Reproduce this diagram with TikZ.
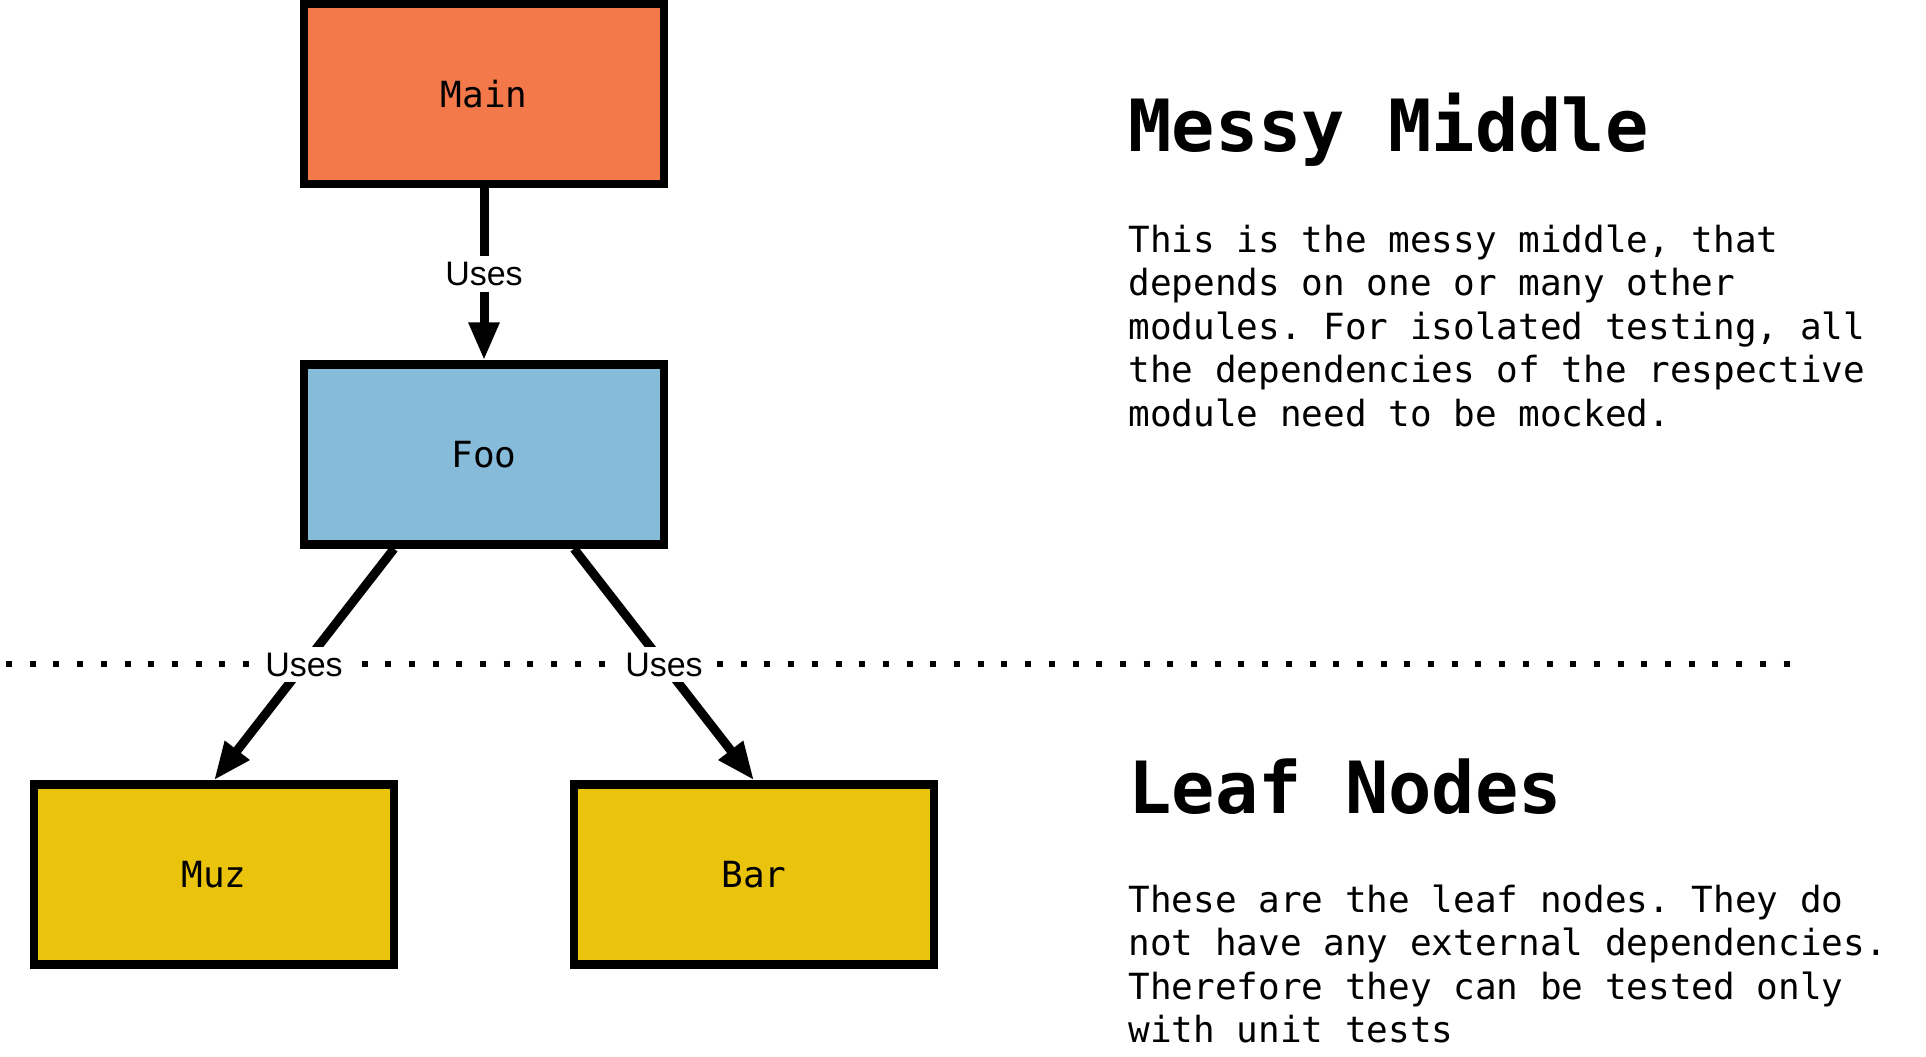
\documentclass[tikz,border=0pt]{standalone}
\usepackage{fontspec}
\setmonofont{DejaVu Sans Mono}
\newfontfamily\usesfont{Liberation Sans}
\usetikzlibrary{arrows.meta}
\definecolor{mainorange}{RGB}{244,121,74}
\definecolor{fooblue}{RGB}{134,187,218}
\definecolor{leafyellow}{RGB}{234,196,12}
\begin{document}
\begin{tikzpicture}[x=0.5pt,y=-0.5pt,
  module/.style={draw=black,line width=4.25pt,minimum width=180pt,minimum height=90pt,
    font=\ttfamily\fontsize{18pt}{20pt}\selectfont},
  uses/.style={line width=4.5pt,-{Triangle[length=19pt,width=14.5pt]}},
  useslabel/.style={fill=white,inner sep=3pt,font=\usesfont\fontsize{17pt}{18pt}\selectfont},
  heading/.style={anchor=base west,inner sep=0pt,font=\ttfamily\bfseries\fontsize{36pt}{40pt}\selectfont},
  blurb/.style={anchor=base west,inner sep=0pt,align=left,font=\ttfamily\fontsize{18pt}{21.8pt}\selectfont}]
\useasboundingbox (0,0) rectangle (1926,1056);
% modules
\node[module,fill=mainorange] (main) at (484,94) {Main};
\node[module,fill=fooblue] (foo) at (484,454.5) {Foo};
\node[module,fill=leafyellow] (muz) at (214,874.5) {Muz};
\node[module,fill=leafyellow] (bar) at (754,874.5) {Bar};
% border between middle and leaves
\coordinate (sepl) at (6,664);
\coordinate (sepr) at (1790,664);
\draw[line width=3pt,dash pattern=on 3pt off 8.85pt] (sepl) -- (sepr);
% dependencies
\draw[uses] (main) -- node[useslabel]{Uses} (foo);
\draw[uses] ([xshift=-45pt]foo.south) -- node[useslabel]{Uses} (muz.north);
\draw[uses] ([xshift=45pt]foo.south) -- node[useslabel]{Uses} (bar.north);
% descriptions (base anchor sits on the last line)
\node[heading] (messytitle) at (1128,151) {Messy Middle};
\node[blurb] (messytext) at (1128,426.4) {This is the messy middle, that\\
depends on one or many other\\
modules. For isolated testing, all\\
the dependencies of the respective\\
module need to be mocked.};
\node[heading] (leaftitle) at (1128,813) {Leaf Nodes};
\node[blurb] (leaftext) at (1128,1042.8) {These are the leaf nodes. They do\\
not have any external dependencies.\\
Therefore they can be tested only\\
with unit tests};
\end{tikzpicture}
\end{document}
